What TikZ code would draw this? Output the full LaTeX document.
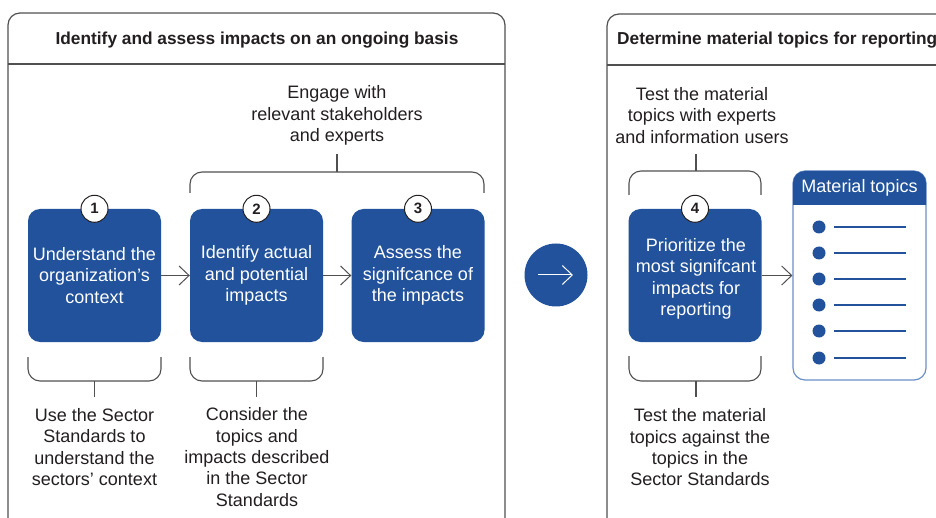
\documentclass[tikz,border=0pt]{standalone}
\usepackage{fontspec}
\setmainfont{Liberation Sans}
\usetikzlibrary{arrows.meta}
\definecolor{griblue}{HTML}{21529B}
\definecolor{lineblue}{HTML}{6A8FC8}
\definecolor{txt}{HTML}{231F20}
\definecolor{frame}{HTML}{505050}
\begin{document}
\begin{tikzpicture}[x=1pt,y=-1pt,
 stepbox/.style={fill=griblue, rounded corners=12pt, minimum width=133pt, minimum height=133pt, inner sep=0pt, text=white, align=center, font=\fontsize{18}{21.5}\selectfont},
 steptext/.style={text=white, align=center, inner sep=0pt, font=\fontsize{18}{21.5}\selectfont},
 numc/.style={circle, draw=txt, line width=1pt, fill=white, minimum size=27pt, inner sep=0pt, font=\bfseries\fontsize{15}{15}\selectfont, text=txt},
 lbl/.style={align=center, text=txt, font=\fontsize{18}{21.3}\selectfont, inner sep=0pt},
 hdr/.style={text=txt, font=\bfseries\fontsize{17.3}{20}\selectfont, inner sep=0pt},
 frm/.style={draw=frame, line width=1.2pt},
 brk/.style={draw=frame, line width=1.1pt, rounded corners=12pt},
 arr/.style={draw=frame, line width=1pt, -{Straight Barb[length=10pt,width=19pt]}},
]
\useasboundingbox[fill=white] (0,0) rectangle (936,518);

% panels
\draw[frm, rounded corners=12pt] (8,530) -- (8,13) -- (505,13) -- (505,530);
\draw[frm] (8,64) -- (505,64);
\draw[frm, rounded corners=12pt] (607,530) -- (607,14) -- (950,14);
\draw[frm] (607,65) -- (936,65);
\node[hdr] (h1) at (257,40) {Identify and assess impacts on an ongoing basis};
\node[hdr, anchor=west] (h2) at (617,40) {Determine material topics for reporting};

% step boxes
\node[stepbox] (b1) at (94.5,275.5) {Understand the\\organization’s\\context};
\node[stepbox] (b2) at (256.5,275.5) {Identify actual\\and potential\\impacts};
\node[stepbox] (b3) at (418,275.5) {Assess the\\signifcance of\\the impacts};
\node[stepbox] (b4) at (695,275.5) {};
\node[steptext] (b4t) at (696,279) {Prioritize the\\most signifcant\\impacts for\\reporting};
\node[numc] (n1) at (b1.north) {1};
\node[numc] (n2) at (b2.north) {2};
\node[numc] (n3) at (b3.north) {3};
\node[numc] (n4) at (b4.north) {4};

\draw[arr] (b1.east) -- (b2.west);
\draw[arr] (b2.east) -- (b3.west);

% brackets and labels, left panel
\node[lbl] (t23) at (337,115.5) {Engage with\\relevant stakeholders\\and experts};
\draw[brk] (190,193) -- (190,172) -- (484,172) -- (484,193);
\coordinate (s23) at (337,172);
\draw[frame, line width=1.1pt] (s23) -- (337,154);

\draw[brk] (28,357) -- (28,381) -- (161,381) -- (161,357);
\coordinate (s1) at (94.5,381);
\node[lbl] (t1) at (94.5,447) {Use the Sector\\Standards to\\understand the\\sectors’ context};
\draw[frame, line width=1.1pt] (s1) -- (94.5,397);

\draw[brk] (190,357) -- (190,381) -- (323,381) -- (323,357);
\coordinate (s2) at (256.5,381);
\node[lbl] (t2) at (257,457) {Consider the\\topics and\\impacts described\\in the Sector\\Standards};
\draw[frame, line width=1.1pt] (s2) -- (256.5,397);

% big arrow circle
\node[circle, fill=griblue, minimum size=63pt, inner sep=0pt] (go) at (556,275) {};
\draw[white, line width=1pt, -{Straight Barb[length=10pt,width=19pt]}] ([xshift=-18pt]go.center) -- ([xshift=17pt]go.center);

% right panel brackets
\node[lbl] (t4a) at (702,115.5) {Test the material\\topics with experts\\and information users};
\draw[brk] (629,195) -- (629,171) -- (761,171) -- (761,195);
\coordinate (s4a) at (696,171);
\draw[frame, line width=1.1pt] (s4a) -- (696,154);

\draw[brk] (629,356) -- (629,381) -- (761,381) -- (761,356);
\coordinate (s4b) at (696,381);
\node[lbl] (t4b) at (700,447.5) {Test the material\\topics against the\\topics in the\\Sector Standards};
\draw[frame, line width=1.1pt] (s4b) -- (696,397);

% material topics box
\node[draw=lineblue, line width=1.2pt, rounded corners=12pt, minimum width=133pt, minimum height=209pt, inner sep=0pt] (mt) at (859.5,275.5) {};
\begin{scope}
\clip (790,168) rectangle (930,205);
\fill[griblue, rounded corners=12pt] (793,171) rectangle (926,240);
\end{scope}
\node[text=white, font=\fontsize{18}{20}\selectfont, inner sep=0pt] (mth) at (859.5,188) {Material topics};
\foreach \y [count=\i] in {227,253,279,305,331,358} {
  \node[circle, fill=griblue, minimum size=13pt, inner sep=0pt] (bul\i) at (819,\y) {};
  \draw[griblue, line width=1.2pt] (834,\y) -- (906,\y);
}
\draw[arr] (b4.east) -- (mt.west);
\end{tikzpicture}
\end{document}
